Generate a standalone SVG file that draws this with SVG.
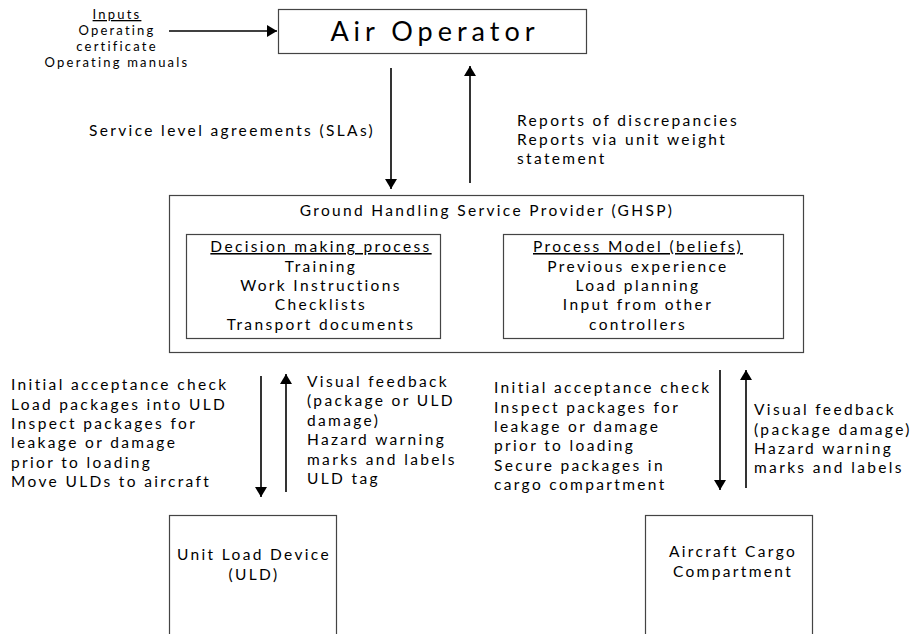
<svg xmlns="http://www.w3.org/2000/svg" width="923" height="634" viewBox="0 0 923 634">
<defs>
<marker id="ah" viewBox="0 0 10 12" refX="10" refY="6" markerWidth="10" markerHeight="12" markerUnits="userSpaceOnUse" orient="auto"><path d="M0,0 L10,6 L0,12 z" fill="#000"/></marker>
<style>
text{font-family:Lato,"Open Sans","Liberation Sans",sans-serif;fill:#000;}
.t{font-size:15.5px;letter-spacing:2.35px;}
.s{font-size:13px;letter-spacing:2.2px;}
.c{text-anchor:middle;}
.box{fill:#fff;stroke:#444;stroke-width:1.2;}
.ln{stroke:#000;stroke-width:1.6;fill:none;marker-end:url(#ah);}
</style>
</defs>
<rect width="923" height="634" fill="#fff"/>
<g id="inputs">
<text class="s c" x="117" y="19" text-decoration="underline">Inputs</text>
<text class="s c" x="117" y="35">Operating</text>
<text class="s c" x="117" y="51">certificate</text>
<text class="s c" x="117" y="67">Operating manuals</text>
</g>
<g id="air-operator">
<rect class="box" x="278.500" y="9.500" width="308" height="44"/>
<text class="c" x="435" y="41" font-size="27" letter-spacing="5">Air Operator</text>
</g>
<g id="ghsp">
<rect class="box" x="169.500" y="195.500" width="634" height="157"/>
<text class="t c" x="487" y="216">Ground Handling Service Provider (GHSP)</text>
<rect class="box" x="186.500" y="234.500" width="254" height="104"/>
<text class="t c" x="321" y="252" text-decoration="underline">Decision making process</text>
<text class="t c" x="321" y="272">Training</text>
<text class="t c" x="321" y="291">Work Instructions</text>
<text class="t c" x="321" y="310">Checklists</text>
<text class="t c" x="321" y="330">Transport documents</text>
<rect class="box" x="503.500" y="234.500" width="280" height="104"/>
<text class="t c" x="638" y="252" text-decoration="underline">Process Model (beliefs)</text>
<text class="t c" x="638" y="272">Previous experience</text>
<text class="t c" x="638" y="291">Load planning</text>
<text class="t c" x="638" y="310">Input from other</text>
<text class="t c" x="638" y="330">controllers</text>
</g>
<g id="uld">
<rect class="box" x="169.500" y="515.500" width="167" height="130"/>
<text class="t c" x="254" y="560">Unit Load Device</text>
<text class="t c" x="254" y="580">(ULD)</text>
</g>
<g id="cargo">
<rect class="box" x="645.500" y="515.500" width="167" height="130"/>
<text class="t c" x="733" y="557">Aircraft Cargo</text>
<text class="t c" x="733" y="577">Compartment</text>
</g>
<g id="connectors">
<line class="ln" x1="169" y1="31" x2="277" y2="31"/>
<line class="ln" x1="391" y1="68" x2="391" y2="189"/>
<line class="ln" x1="470" y1="183" x2="470" y2="66"/>
<line class="ln" x1="261" y1="376" x2="261" y2="497"/>
<line class="ln" x1="286" y1="492" x2="286" y2="374"/>
<line class="ln" x1="720" y1="370" x2="720" y2="490"/>
<line class="ln" x1="746" y1="488" x2="746" y2="370"/>
</g>
<g id="labels">
<text class="t" x="89" y="136">Service level agreements (SLAs)</text>
<text class="t" x="517" y="126">Reports of discrepancies</text>
<text class="t" x="517" y="145">Reports via unit weight</text>
<text class="t" x="517" y="164">statement</text>
<text class="t" x="11" y="390">Initial acceptance check</text>
<text class="t" x="11" y="410">Load packages into ULD</text>
<text class="t" x="11" y="429">Inspect packages for</text>
<text class="t" x="11" y="448">leakage or damage</text>
<text class="t" x="11" y="468">prior to loading</text>
<text class="t" x="11" y="487">Move ULDs to aircraft</text>
<text class="t" x="307" y="387">Visual feedback</text>
<text class="t" x="307" y="406">(package or ULD</text>
<text class="t" x="307" y="426">damage)</text>
<text class="t" x="307" y="445">Hazard warning</text>
<text class="t" x="307" y="465">marks and labels</text>
<text class="t" x="307" y="484">ULD tag</text>
<text class="t" x="494" y="393">Initial acceptance check</text>
<text class="t" x="494" y="413">Inspect packages for</text>
<text class="t" x="494" y="432">leakage or damage</text>
<text class="t" x="494" y="451">prior to loading</text>
<text class="t" x="494" y="471">Secure packages in</text>
<text class="t" x="494" y="490">cargo compartment</text>
<text class="t" x="754" y="415">Visual feedback</text>
<text class="t" x="754" y="435">(package damage)</text>
<text class="t" x="754" y="454">Hazard warning</text>
<text class="t" x="754" y="473">marks and labels</text>
</g>
</svg>
